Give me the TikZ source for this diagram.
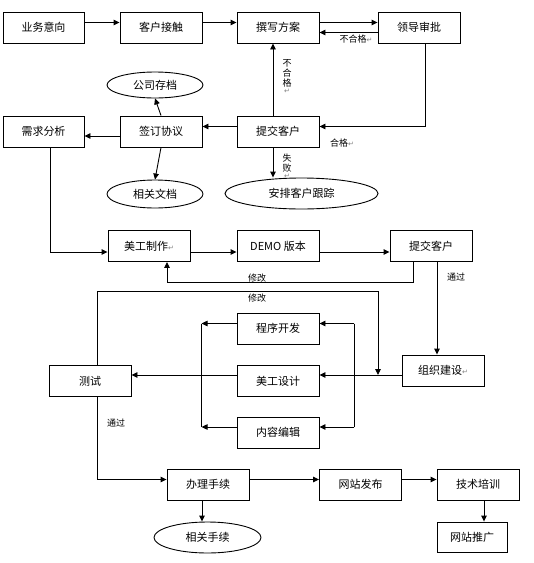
\documentclass[tikz,border=0pt]{standalone}
\usepackage{fontspec}
\setmainfont{Noto Sans CJK SC}
\newfontfamily\symb{DejaVu Sans}
\usetikzlibrary{arrows.meta,shapes.geometric}
\newcommand\marca{{\symb\color{gray}\scriptsize ↵}}
\tikzset{
  caja/.style={draw,line width=0.9pt,minimum width=82pt,minimum height=31pt,inner sep=0pt,font=\fontsize{11}{13}\selectfont},
  elipse/.style={draw,ellipse,line width=0.9pt,minimum width=96pt,minimum height=26pt,inner sep=0pt,font=\fontsize{11}{13}\selectfont},
  flecha/.style={line width=0.9pt,-{Triangle[length=6pt,width=5.5pt]}},
  linea/.style={line width=0.9pt},
  etiq/.style={font=\fontsize{9}{10}\selectfont,inner sep=0pt,align=center}
}
\begin{document}
\begin{tikzpicture}[x=1pt,y=-1pt]
\useasboundingbox (0,0) rectangle (534,563);

% Fila superior
\node[caja,minimum width=81pt] (yw) at (43.5,27.5) {业务意向};
\node[caja] (kh) at (161,27.5) {客户接触};
\node[caja] (zx) at (278,27.5) {撰写方案};
\node[caja] (ld) at (419,27.5) {领导审批};

% Contrato
\node[elipse] (gs) at (155,85) {公司存档};
\node[caja,minimum width=81pt] (xq) at (43.5,131.5) {需求分析};
\node[caja] (qd) at (161,131.5) {签订协议};
\node[caja] (tj) at (278,131.5) {提交客户};
\node[elipse,minimum height=28pt] (xg) at (155,194) {相关文档};
\node[elipse,minimum width=153pt,minimum height=31pt] (ap) at (301.5,193.5) {安排客户跟踪};

% DEMO
\node[caja] (mz) at (149,246) {美工制作\marca};
\node[caja] (demo) at (278,246) {DEMO 版本};
\node[caja] (tjb) at (431,246) {提交客户};

% Construcción
\node[caja] (zz) at (443,370.5) {组织建设\marca};
\node[caja] (cx) at (278,328.5) {程序开发};
\node[caja] (mg) at (278,381) {美工设计};
\node[caja] (cs) at (90,381) {测试};
\node[caja] (nr) at (278,432.5) {内容编辑};

% Fila inferior
\node[caja] (bl) at (208,484.5) {办理手续};
\node[caja] (wf) at (360.5,484.5) {网站发布};
\node[caja] (js) at (478,484.5) {技术培训};
\node[elipse,minimum width=107pt,minimum height=31pt] (sx) at (207.5,537.5) {相关手续};
\node[caja,minimum width=70pt,minimum height=30pt] (tg) at (472,537) {网站推广};

% Flechas fila superior
\draw[flecha] ([yshift=5pt]yw.east) -- ([yshift=5pt]kh.west);
\draw[flecha] ([yshift=5pt]kh.east) -- ([yshift=5pt]zx.west);
\draw[flecha] ([yshift=5pt]zx.east) -- ([yshift=5pt]ld.west);
\draw[flecha] ([yshift=-5pt]ld.west) -- ([yshift=-5pt]zx.east);
\node[etiq] (l1) at (356,39) {不合格\marca};

% Aprobación
\draw[flecha] ([xshift=6pt]ld.south) |- ([yshift=5pt]tj.east);
\node[etiq] (l2) at (342,143) {合格\marca};
\draw[flecha] ([xshift=-5pt]tj.north) -- ([xshift=-5pt]zx.south);
\node[etiq] (l3) at (287,77) {不\\合\\格\\[-3pt]\marca};
\draw[flecha] ([xshift=-5pt]tj.south) -- ([xshift=-5pt]tj.south |- ap.north);
\node[etiq] (l4) at (287,166) {失\\败\\[-3pt]\marca};
\draw[flecha] ([yshift=5pt]tj.west) -- ([yshift=5pt]qd.east);
\draw[flecha] ([yshift=-4.5pt]qd.west) -- ([yshift=-4.5pt]xq.east);
\draw[flecha] (qd.north) -- (gs.south);
\draw[flecha] (qd.south) -- (xg.north);

% Hacia DEMO
\draw[flecha] ([xshift=6.5pt]xq.south) |- ([yshift=-6pt]mz.west);
\draw[flecha] ([yshift=-6pt]mz.east) -- ([yshift=-6pt]demo.west);
\draw[flecha] ([yshift=-6pt]demo.east) -- ([yshift=-6pt]tjb.west);
\draw[flecha] ([xshift=-18pt]tjb.south) -- ++(0,20) -| ([xshift=18pt]mz.south);
\node[etiq] (l5) at (257,278) {修改};
\draw[flecha] ([xshift=6pt]tjb.south) -- ([xshift=6pt]tjb.south |- zz.north);
\node[etiq] (l6) at (456,277) {通过};

% Construcción del sitio
\coordinate (cruce) at (378,375);
\draw[flecha] ([xshift=7pt]cs.north) |- (378,291.7) -- (cruce);
\node[etiq] (l7) at (257,298) {修改};
\draw[flecha] ([yshift=-4.5pt]zz.west) -- ([yshift=6pt]mg.east);
\draw[flecha] ([yshift=6pt]mg.west) -- ([yshift=6pt]cs.east);
\draw[flecha] ([yshift=5pt]cx.west) -- ++(-35,0) coordinate (a1);
\draw[flecha] ([yshift=5.5pt]nr.west) -- ++(-35,0) coordinate (a2);
\draw[linea] (a1) -- (a2);
\coordinate (b1) at ([yshift=5pt,xshift=35pt]cx.east);
\coordinate (b2) at ([yshift=5.5pt,xshift=35pt]nr.east);
\draw[flecha] (b1) -- ([yshift=5pt]cx.east);
\draw[flecha] (b2) -- ([yshift=5.5pt]nr.east);
\draw[linea] (b1) -- (b2);

% Fila inferior
\draw[flecha] ([xshift=7pt]cs.south) |- ([yshift=5pt]bl.west);
\node[etiq] (l8) at (116,423) {通过};
\draw[flecha] ([yshift=5pt]bl.east) -- ([yshift=5pt]wf.west);
\draw[flecha] ([yshift=5pt]wf.east) -- ([yshift=5pt]js.west);
\draw[flecha] ([xshift=-6pt]bl.south) -- ([xshift=-6pt]bl.south |- sx.north);
\draw[flecha] ([xshift=6pt]js.south) -- ([xshift=6pt]js.south |- tg.north);

\end{tikzpicture}
\end{document}
